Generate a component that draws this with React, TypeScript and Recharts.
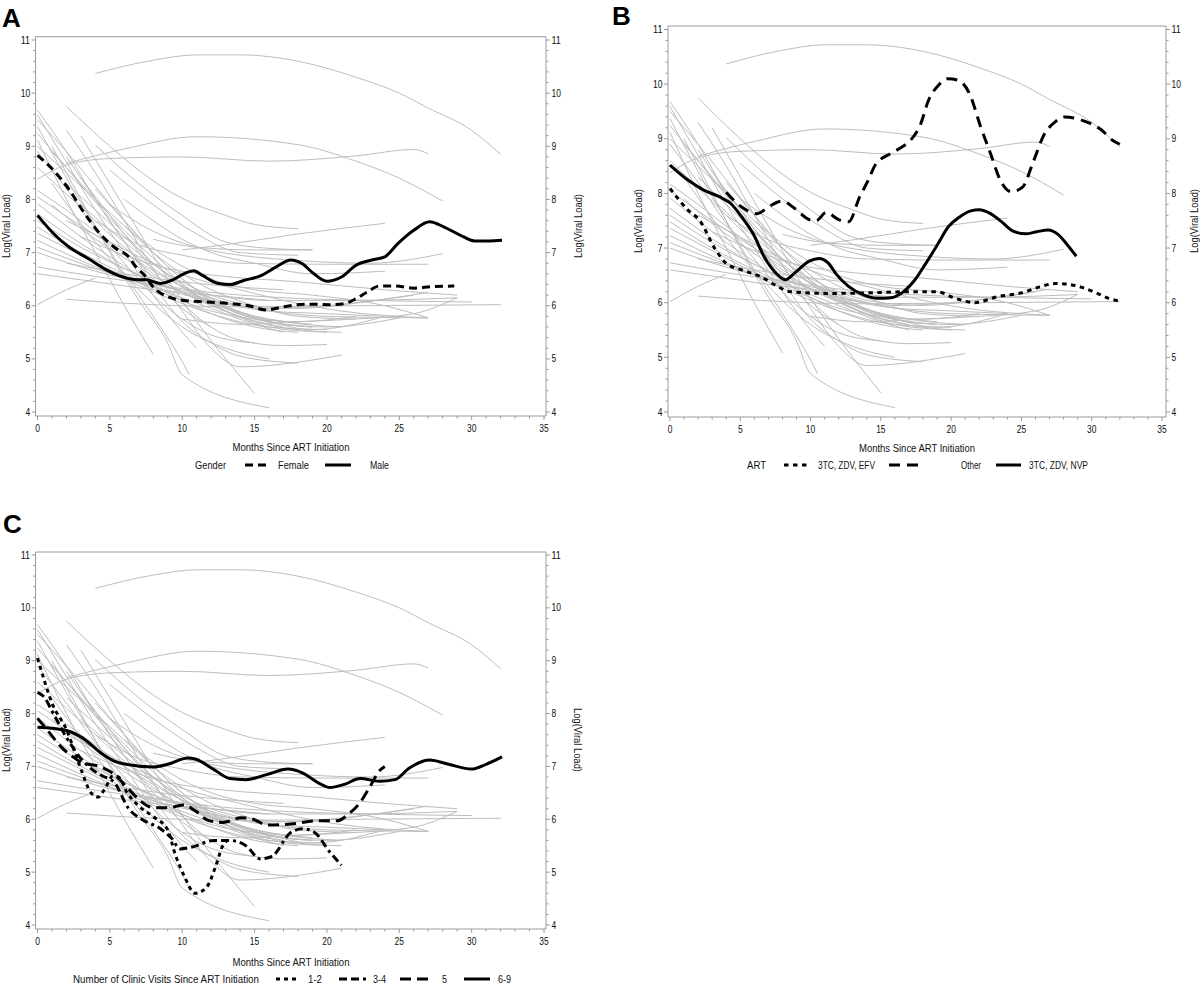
import React from "react";
import { LineChart, Line, XAxis, YAxis, ReferenceLine } from "recharts";

type Pt = [number, number];

// tick labels
const xMajor = [0, 5, 10, 15, 20, 25, 30, 35];
const yMajor = [4, 5, 6, 7, 8, 9, 10, 11];
const xTicks = Array.from({ length: 36 }, (_, i) => i);
const yTicks = Array.from({ length: 36 }, (_, i) => Math.round((4 + i * 0.2) * 10) / 10);

// individual trajectories (months, log viral load) - same in every panel
const subjects: Pt[][] = [
  [[4, 10.37], [8, 10.62], [11, 10.72], [14, 10.72], [18, 10.6], [22, 10.3], [25, 10.0], [27, 9.72], [30, 9.3], [32, 8.85]],
  [[2, 8.68], [6, 8.95], [11, 9.18], [18, 9.03], [22, 8.72], [25, 8.4], [28, 7.97]],
  [[0, 8.38], [2, 8.65], [5, 8.77], [10, 8.8], [16, 8.72], [22, 8.82], [26, 8.94], [27, 8.86]],
  [[2, 9.75], [5, 9.0], [8, 8.35], [10, 8.02], [13, 7.7], [15, 7.53], [18, 7.45]],
  [[4, 9.02], [7, 8.3], [10, 7.7], [13, 7.2], [16, 7.08], [19, 7.05]],
  [[5, 8.55], [8, 7.9], [11, 7.35], [14, 7.0], [18, 6.95]],
  [[10, 7.05], [13, 7.15], [18, 7.35], [24, 7.55]],
  [[0, 6.02], [2, 6.3], [4, 6.52]],
  [[2, 6.12], [8, 6.02], [14, 5.98], [22, 6.0], [32, 6.02]],
  [[0, 9.68], [2, 8.9], [4, 8.0], [6, 7.2], [8, 6.5], [10, 5.95], [12, 5.6]],
  [[0, 9.59], [2, 8.7], [4, 7.8], [6, 7.0], [8, 6.2], [10, 5.5], [11, 5.2]],
  [[0, 9.5], [2, 8.9], [4, 8.25], [6, 7.6], [8, 7.0], [10, 6.5], [13, 6.0], [16, 5.7], [19, 5.6]],
  [[0, 9.37], [2, 8.4], [4, 7.5], [6, 6.6], [8, 5.8], [10, 4.95], [10.5, 4.7]],
  [[0, 9.24], [2, 8.6], [4, 7.95], [6, 7.35], [8, 6.8], [10, 6.35], [13, 5.9], [16, 5.6], [20, 5.5]],
  [[0, 9.12], [2, 8.0], [4, 7.0], [6, 6.0], [8, 5.08]],
  [[0, 9.0], [2, 8.5], [4, 8.0], [6, 7.5], [8, 7.0], [10, 6.6], [12, 6.3], [15, 6.0], [18, 5.8], [22, 5.75]],
  [[0, 8.6], [2, 8.1], [4, 7.6], [6, 7.1], [8, 6.7], [10, 6.35], [13, 5.95], [16, 5.7], [20, 5.6], [25, 5.77]],
  [[0, 8.17], [2, 7.8], [4, 7.4], [6, 7.0], [8, 6.6], [10, 6.25], [13, 5.95], [17, 5.7], [21, 5.6]],
  [[0, 8.05], [3, 7.5], [6, 7.0], [9, 6.5], [12, 6.15], [15, 5.95], [20, 5.8], [27, 5.77]],
  [[0, 7.92], [2, 7.5], [4, 7.1], [6, 6.75], [8, 6.4], [10, 6.1], [12, 5.85], [15, 5.6], [18, 5.5]],
  [[0, 7.73], [2, 7.35], [4, 7.0], [6, 6.7], [9, 6.35], [12, 6.1], [16, 5.9], [20, 5.85], [24, 5.8]],
  [[0, 7.6], [3, 7.1], [6, 6.7], [9, 6.35], [12, 6.05], [15, 5.8], [19, 5.65]],
  [[0, 7.48], [3, 7.0], [6, 6.6], [9, 6.25], [12, 5.95], [15, 5.65], [17, 5.5]],
  [[0, 7.36], [3, 6.95], [6, 6.55], [9, 6.2], [12, 5.9], [15, 5.75], [18, 5.7], [22, 5.8]],
  [[0, 7.23], [3, 6.85], [6, 6.5], [9, 6.15], [12, 5.85], [16, 5.6], [20, 5.55]],
  [[0, 7.1], [4, 6.7], [8, 6.35], [12, 6.1], [16, 5.95], [20, 6.0], [27, 6.25]],
  [[0, 7.0], [4, 6.65], [8, 6.4], [12, 6.2], [16, 6.1], [22, 6.1], [29, 6.15]],
  [[0, 6.73], [4, 6.55], [8, 6.4], [12, 6.25], [17, 6.15], [23, 6.1], [30, 6.07]],
  [[0, 6.6], [4, 6.45], [8, 6.3], [12, 6.2], [16, 6.1]],
  [[2, 9.3], [4, 8.5], [6, 7.6], [8, 6.7], [10, 5.9], [12, 5.2], [14, 4.85], [21, 5.07]],
  [[3, 9.2], [5, 8.3], [7, 7.4], [9, 6.5], [11, 5.7], [13, 5.0], [15, 4.35]],
  [[1, 9.0], [3, 8.0], [5, 7.0], [7, 6.1], [9, 5.3], [10, 4.7], [16, 4.08]],
  [[2, 8.8], [4, 8.0], [6, 7.2], [8, 6.4], [10, 5.7], [12, 5.3], [14, 5.05], [18, 4.92]],
  [[3, 8.4], [5, 7.7], [7, 7.0], [9, 6.35], [11, 5.8], [14, 5.35], [17, 5.25], [20, 5.27]],
  [[4, 8.2], [6, 7.6], [8, 7.0], [10, 6.5], [12, 6.1], [15, 5.75], [19, 5.6]],
  [[2, 8.3], [4, 7.8], [6, 7.3], [8, 6.8], [10, 6.4], [12, 6.1], [15, 5.8], [19, 5.55], [24, 5.8]],
  [[1, 8.9], [3, 8.3], [5, 7.7], [7, 7.15], [9, 6.65], [11, 6.2], [14, 5.8], [17, 5.6]],
  [[2, 7.6], [5, 7.2], [8, 6.8], [11, 6.5], [14, 6.3], [17, 6.1], [21, 5.9], [27, 5.77]],
  [[6, 8.0], [8, 7.6], [10, 7.25], [12, 7.0], [15, 6.8], [19, 6.6], [24, 6.65]],
  [[5, 7.9], [8, 7.4], [11, 7.1], [14, 6.95], [18, 6.85], [23, 6.8], [28, 6.98]],
  [[4, 7.6], [7, 7.15], [10, 6.95], [14, 6.8], [20, 6.78], [27, 6.78]],
  [[3, 7.3], [6, 6.95], [9, 6.7], [13, 6.55], [18, 6.45], [24, 6.3], [29, 6.2]],
  [[8, 7.25], [11, 7.1], [15, 7.05], [19, 7.05]],
  [[2, 6.8], [6, 6.6], [10, 6.45], [14, 6.35], [17, 6.3]],
  [[10, 5.75], [14, 5.65], [18, 5.7], [22, 5.75], [26, 5.85], [29, 6.15]],
  [[1, 7.9], [3, 7.45], [6, 6.9], [9, 6.4], [12, 6.0], [15, 5.7], [18, 5.55], [21, 5.5]],
  [[0, 8.9], [2, 8.2], [4, 7.45], [6, 6.8], [8, 6.2], [10, 5.75], [12, 5.45], [15, 5.3]],
  [[3, 7.9], [6, 7.2], [9, 6.6], [12, 6.2], [15, 6.0], [18, 5.95], [22, 6.05], [26, 6.2]],
  [[6, 7.5], [9, 6.9], [12, 6.5], [15, 6.3], [19, 6.2], [24, 6.0], [27, 5.77]],
  [[1, 8.3], [4, 7.2], [7, 6.3], [10, 5.6], [13, 5.2], [16, 5.0]],
];

// smoothed group curves
const femaleCurve: Pt[] = [[0, 8.83], [1.1, 8.55], [2.2, 8.18], [3.1, 7.8], [4.3, 7.36], [5.3, 7.1], [6.3, 6.92], [6.8, 6.73], [7.5, 6.54], [8, 6.35], [9, 6.17], [10.1, 6.1], [11.7, 6.07], [13.3, 6.04], [14.6, 6.0], [15.8, 5.92], [17, 5.98], [18.6, 6.03], [20.2, 6.02], [21.2, 6.04], [22, 6.13], [22.8, 6.26], [23.6, 6.37], [24.7, 6.37], [26, 6.33], [27.3, 6.36], [28.8, 6.37]];
const maleCurve: Pt[] = [[0, 7.7], [1.1, 7.36], [2.2, 7.1], [3.5, 6.89], [4.8, 6.67], [5.9, 6.54], [6.9, 6.49], [7.5, 6.49], [8.5, 6.42], [9.3, 6.48], [10.1, 6.6], [10.8, 6.66], [11.4, 6.57], [12.5, 6.42], [13.3, 6.4], [14.3, 6.48], [15.4, 6.56], [16.5, 6.73], [17.5, 6.86], [18.3, 6.79], [19.1, 6.6], [20, 6.46], [21, 6.54], [22, 6.76], [23.1, 6.86], [24, 6.92], [24.9, 7.17], [26, 7.42], [27.1, 7.58], [28.1, 7.48], [29.2, 7.33], [30.2, 7.22], [31.2, 7.22], [32.1, 7.23]];

const efvCurve: Pt[] = [[0, 8.09], [1.3, 7.69], [2.1, 7.51], [3.2, 6.99], [4, 6.72], [5.1, 6.6], [6.5, 6.47], [7.5, 6.32], [8.6, 6.2], [11.4, 6.17], [14.1, 6.18], [16.8, 6.2], [19, 6.2], [20.3, 6.08], [21.7, 6.0], [23.3, 6.11], [25, 6.18], [26.3, 6.29], [27.4, 6.35], [28.2, 6.34], [29.3, 6.28], [30.4, 6.17], [31.2, 6.08], [32, 6.03]];
const otherCurve: Pt[] = [[4, 8.02], [5.1, 7.75], [6.2, 7.63], [7.1, 7.77], [7.95, 7.86], [8.9, 7.72], [9.9, 7.52], [10.4, 7.5], [11.1, 7.65], [12, 7.52], [12.7, 7.48], [13.5, 7.94], [14.1, 8.24], [14.6, 8.52], [15.7, 8.73], [16.5, 8.85], [17.1, 8.97], [17.8, 9.25], [18.4, 9.71], [19.1, 9.98], [19.8, 10.1], [20.5, 10.07], [21.3, 9.83], [22.1, 9.22], [22.8, 8.73], [23.5, 8.24], [24.3, 8.03], [25.1, 8.12], [25.8, 8.55], [26.6, 9.07], [27.4, 9.31], [28.1, 9.4], [28.9, 9.37], [29.9, 9.28], [30.7, 9.16], [31.5, 8.97], [32, 8.9]];
const nvpCurve: Pt[] = [[0, 8.52], [1.3, 8.24], [2.4, 8.06], [3.5, 7.94], [4.3, 7.82], [5.1, 7.57], [5.9, 7.27], [6.7, 6.84], [7.5, 6.55], [8.2, 6.42], [8.9, 6.55], [9.9, 6.76], [10.6, 6.81], [11.2, 6.74], [11.9, 6.5], [12.7, 6.3], [13.8, 6.14], [14.9, 6.08], [15.7, 6.09], [16.5, 6.18], [17.4, 6.41], [18.2, 6.72], [19, 7.05], [19.8, 7.39], [20.6, 7.57], [21.4, 7.68], [22, 7.7], [22.8, 7.63], [23.6, 7.48], [24.4, 7.31], [25.3, 7.26], [26.1, 7.3], [26.9, 7.33], [27.6, 7.25], [28.2, 7.08], [28.9, 6.85]];

const visits12: Pt[] = [[0, 9.05], [0.5, 8.6], [1, 8.2], [2, 7.7], [3, 6.95], [3.7, 6.5], [4.2, 6.42], [4.7, 6.6], [5.2, 6.82], [5.6, 6.8], [6.2, 6.5], [7, 6.25], [8, 6.05], [9, 5.8], [9.5, 5.35], [10.1, 4.95], [10.9, 4.6], [11.7, 4.72], [12.3, 5.1], [12.8, 5.5], [13.1, 5.6]];
const visits34: Pt[] = [[0, 8.4], [0.5, 8.3], [1, 8.05], [2, 7.55], [3, 7.15], [4, 6.9], [4.5, 6.82], [5.3, 6.7], [6.3, 6.2], [7.2, 6.0], [8.5, 5.82], [9.3, 5.63], [9.85, 5.44], [10.6, 5.47], [12.2, 5.6], [13.3, 5.6], [14.4, 5.5], [15.4, 5.25], [16.2, 5.3], [17.5, 5.75], [18.3, 5.82], [19.1, 5.76], [20.2, 5.38], [21, 5.13]];
const visits5: Pt[] = [[0, 7.91], [0.85, 7.63], [1.6, 7.38], [2.4, 7.19], [3.1, 7.07], [4.3, 7.0], [5.3, 6.85], [6.3, 6.57], [7.1, 6.35], [8, 6.22], [9.05, 6.22], [10.1, 6.27], [10.9, 6.16], [11.8, 5.98], [12.8, 5.94], [14.1, 6.03], [14.9, 6.0], [15.9, 5.89], [17.5, 5.91], [19.4, 5.97], [20.7, 5.97], [21.5, 6.1], [22.3, 6.32], [23, 6.63], [23.6, 6.91], [24, 7.0]];
const visits69: Pt[] = [[0, 7.74], [2, 7.68], [3.1, 7.54], [4.55, 7.22], [5.3, 7.1], [6.1, 7.04], [8, 6.99], [9, 7.04], [10.4, 7.16], [10.9, 7.14], [12.2, 6.94], [13.3, 6.77], [14.4, 6.75], [15.9, 6.85], [17.3, 6.95], [18.3, 6.88], [19.4, 6.69], [20.2, 6.6], [21.2, 6.66], [22.3, 6.77], [23.6, 6.72], [24.7, 6.75], [25.7, 6.97], [27.1, 7.12], [28.4, 7.04], [30, 6.95], [31, 7.04], [32.1, 7.18]];

const FONT = "'Liberation Sans', Arial, sans-serif";
const FRAME = "#9a9a9a";
const GRAY = "#bdbdbd";

const rows = (pts: Pt[]) => pts.map(([m, v]) => ({ m, v }));

type Geo = {
  left: number; top: number; w: number; h: number;
  pl: number; pr: number; pt: number; pb: number;
  xDom: [number, number]; yDom: [number, number];
};
type Curve = { name: string; pts: Pt[]; dash?: string };

const geoA: Geo = { left: 0, top: 0, w: 600, h: 440, pl: 35.6, pr: 546, pt: 36.7, pb: 416, xDom: [-0.131, 35.138], yDom: [3.925, 11.062] };
const geoB: Geo = { left: 600, top: 0, w: 600, h: 440, pl: 68, pr: 566, pt: 26, pb: 417, xDom: [-0.142, 35.284], yDom: [3.908, 11.064] };
const geoC: Geo = { left: 0, top: 515, w: 600, h: 440, pl: 35.6, pr: 546, pt: 37, pb: 414, xDom: [-0.131, 35.138], yDom: [3.924, 11.057] };

// condensed look: squeeze glyphs to a measured width
const digitW = (v: number) => String(v).length * 4.7;

const XTick = (p: any) => {
  const v = p.payload.value;
  const major = xMajor.includes(v);
  return (
    <g>
      <line x1={p.x} x2={p.x} y1={p.y} y2={p.y + (major ? 4 : 2.5)} stroke={FRAME} />
      {major && (
        <text x={p.x} y={p.y + 15.5} textAnchor="middle" fontSize={10} fontFamily={FONT} fill="#111"
          textLength={digitW(v)} lengthAdjust="spacingAndGlyphs">{v}</text>
      )}
    </g>
  );
};

const YTickL = (p: any) => {
  const v = p.payload.value;
  const major = yMajor.includes(v);
  return (
    <g>
      <line x1={p.x - (major ? 4 : 2.5)} x2={p.x} y1={p.y} y2={p.y} stroke={FRAME} />
      {major && (
        <text x={p.x - 5.5} y={p.y + 3.6} textAnchor="end" fontSize={10} fontFamily={FONT} fill="#111"
          textLength={digitW(v)} lengthAdjust="spacingAndGlyphs">{v}</text>
      )}
    </g>
  );
};

const YTickR = (p: any) => {
  const v = p.payload.value;
  const major = yMajor.includes(v);
  return (
    <g>
      <line x1={p.x} x2={p.x + (major ? 4 : 2.5)} y1={p.y} y2={p.y} stroke={FRAME} />
      {major && (
        <text x={p.x + 5.5} y={p.y + 3.6} textAnchor="start" fontSize={10} fontFamily={FONT} fill="#111"
          textLength={digitW(v)} lengthAdjust="spacingAndGlyphs">{v}</text>
      )}
    </g>
  );
};

function Panel({ geo, curves }: { geo: Geo; curves: Curve[] }) {
  return (
    <div style={{ position: "absolute", left: geo.left, top: geo.top }}>
      <LineChart width={geo.w} height={geo.h} margin={{ top: geo.pt, right: 0, bottom: 0, left: 0 }}>
        <XAxis dataKey="m" type="number" domain={geo.xDom} allowDataOverflow ticks={xTicks} interval={0}
          tickSize={0} tickMargin={0} tick={XTick} height={geo.h - geo.pb} stroke={FRAME} />
        <YAxis yAxisId="l" type="number" domain={geo.yDom} allowDataOverflow ticks={yTicks} interval={0}
          tickSize={0} tickMargin={0} tick={YTickL} width={geo.pl} stroke={FRAME} />
        <YAxis yAxisId="r" orientation="right" type="number" domain={geo.yDom} allowDataOverflow ticks={yTicks} interval={0}
          tickSize={0} tickMargin={0} tick={YTickR} width={geo.w - geo.pr} stroke={FRAME} />
        <ReferenceLine yAxisId="l" y={geo.yDom[1]} stroke={FRAME} />
        {subjects.map((s, i) => (
          <Line key={"s" + i} yAxisId="l" data={rows(s)} dataKey="v" type="monotone" stroke={GRAY}
            strokeWidth={1} dot={false} activeDot={false} isAnimationActive={false} />
        ))}
        {curves.map((c) => (
          <Line key={c.name} name={c.name} yAxisId="l" data={rows(c.pts)} dataKey="v" type="monotone" stroke="#000"
            strokeWidth={3} strokeDasharray={c.dash} dot={false} activeDot={false} isAnimationActive={false} />
        ))}
      </LineChart>
    </div>
  );
}

const DASH_F = "8 5";
const DASH_EFV = "4.5 4.5";
const DASH_OTHER = "11 7";
const DASH_12 = "4 4";
const DASH_34 = "8 4 8 4 3 4";
const DASH_5 = "11 6";

const txt = { fontFamily: FONT, fontSize: 10.5, fill: "#111", lengthAdjust: "spacingAndGlyphs" } as const;

function T({ x, y, w, children, mid }: { x: number; y: number; w: number; children: string; mid?: boolean }) {
  return <text x={x} y={y} textLength={w} textAnchor={mid ? "middle" : "start"} {...txt}>{children}</text>;
}

function Sample({ x1, x2, y, dash }: { x1: number; x2: number; y: number; dash?: string }) {
  return <line x1={x1} x2={x2} y1={y} y2={y} stroke="#000" strokeWidth={3} strokeDasharray={dash} />;
}

function YTitle({ x, y, rot }: { x: number; y: number; rot: number }) {
  return (
    <text transform={`translate(${x},${y}) rotate(${rot})`} textAnchor="middle" textLength={64} {...txt}>Log(Viral Load)</text>
  );
}

export default function App() {
  return (
    <div style={{ position: "absolute", left: 0, top: 0, width: 1200, height: 984, background: "#fff" }}>
      <Panel geo={geoA} curves={[
        { name: "Female", pts: femaleCurve, dash: DASH_F },
        { name: "Male", pts: maleCurve },
      ]} />
      <Panel geo={geoB} curves={[
        { name: "3TC, ZDV, EFV", pts: efvCurve, dash: DASH_EFV },
        { name: "Other", pts: otherCurve, dash: DASH_OTHER },
        { name: "3TC, ZDV, NVP", pts: nvpCurve },
      ]} />
      <Panel geo={geoC} curves={[
        { name: "1-2", pts: visits12, dash: DASH_12 },
        { name: "3-4", pts: visits34, dash: DASH_34 },
        { name: "5", pts: visits5, dash: DASH_5 },
        { name: "6-9", pts: visits69 },
      ]} />
      <svg width={1200} height={984} style={{ position: "absolute", left: 0, top: 0, pointerEvents: "none" }}>
        <g fontFamily={FONT} fontWeight="bold" fontSize={26} fill="#000">
          <text x={2} y={27}>A</text>
          <text x={612} y={25}>B</text>
          <text x={3} y={533}>C</text>
        </g>

        {/* panel A */}
        <YTitle x={10} y={226} rot={-90} />
        <YTitle x={582} y={226} rot={-90} />
        <T x={291} y={451} w={117} mid>Months Since ART Initiation</T>
        <T x={195} y={469} w={31}>Gender</T>
        <Sample x1={245} x2={266} y={465} dash={DASH_F} />
        <T x={278} y={469} w={31}>Female</T>
        <Sample x1={325} x2={351} y={465} />
        <T x={370} y={469} w={19}>Male</T>

        {/* panel B */}
        <YTitle x={642} y={221} rot={-90} />
        <YTitle x={1198} y={221} rot={-90} />
        <T x={917} y={452} w={116} mid>Months Since ART Initiation</T>
        <T x={747} y={469} w={19}>ART</T>
        <Sample x1={784} x2={811} y={465} dash={DASH_EFV} />
        <T x={818} y={469} w={57}>3TC, ZDV, EFV</T>
        <Sample x1={889} x2={918} y={465} dash={DASH_OTHER} />
        <T x={961} y={469} w={20}>Other</T>
        <Sample x1={996} x2={1021} y={465} />
        <T x={1029} y={469} w={59}>3TC, ZDV, NVP</T>

        {/* panel C */}
        <YTitle x={10} y={740} rot={-90} />
        <YTitle x={574} y={740} rot={90} />
        <T x={291} y={966} w={117} mid>Months Since ART Initiation</T>
        <T x={73} y={983} w={186}>Number of Clinic Visits Since ART Initiation</T>
        <Sample x1={276} x2={300} y={979} dash={DASH_12} />
        <T x={308} y={983} w={14}>1-2</T>
        <Sample x1={339} x2={368} y={979} dash={DASH_34} />
        <T x={373} y={983} w={13}>3-4</T>
        <Sample x1={400} x2={428} y={979} dash={DASH_5} />
        <T x={442} y={983} w={5}>5</T>
        <Sample x1={464} x2={490} y={979} />
        <T x={498} y={983} w={13}>6-9</T>
      </svg>
    </div>
  );
}
